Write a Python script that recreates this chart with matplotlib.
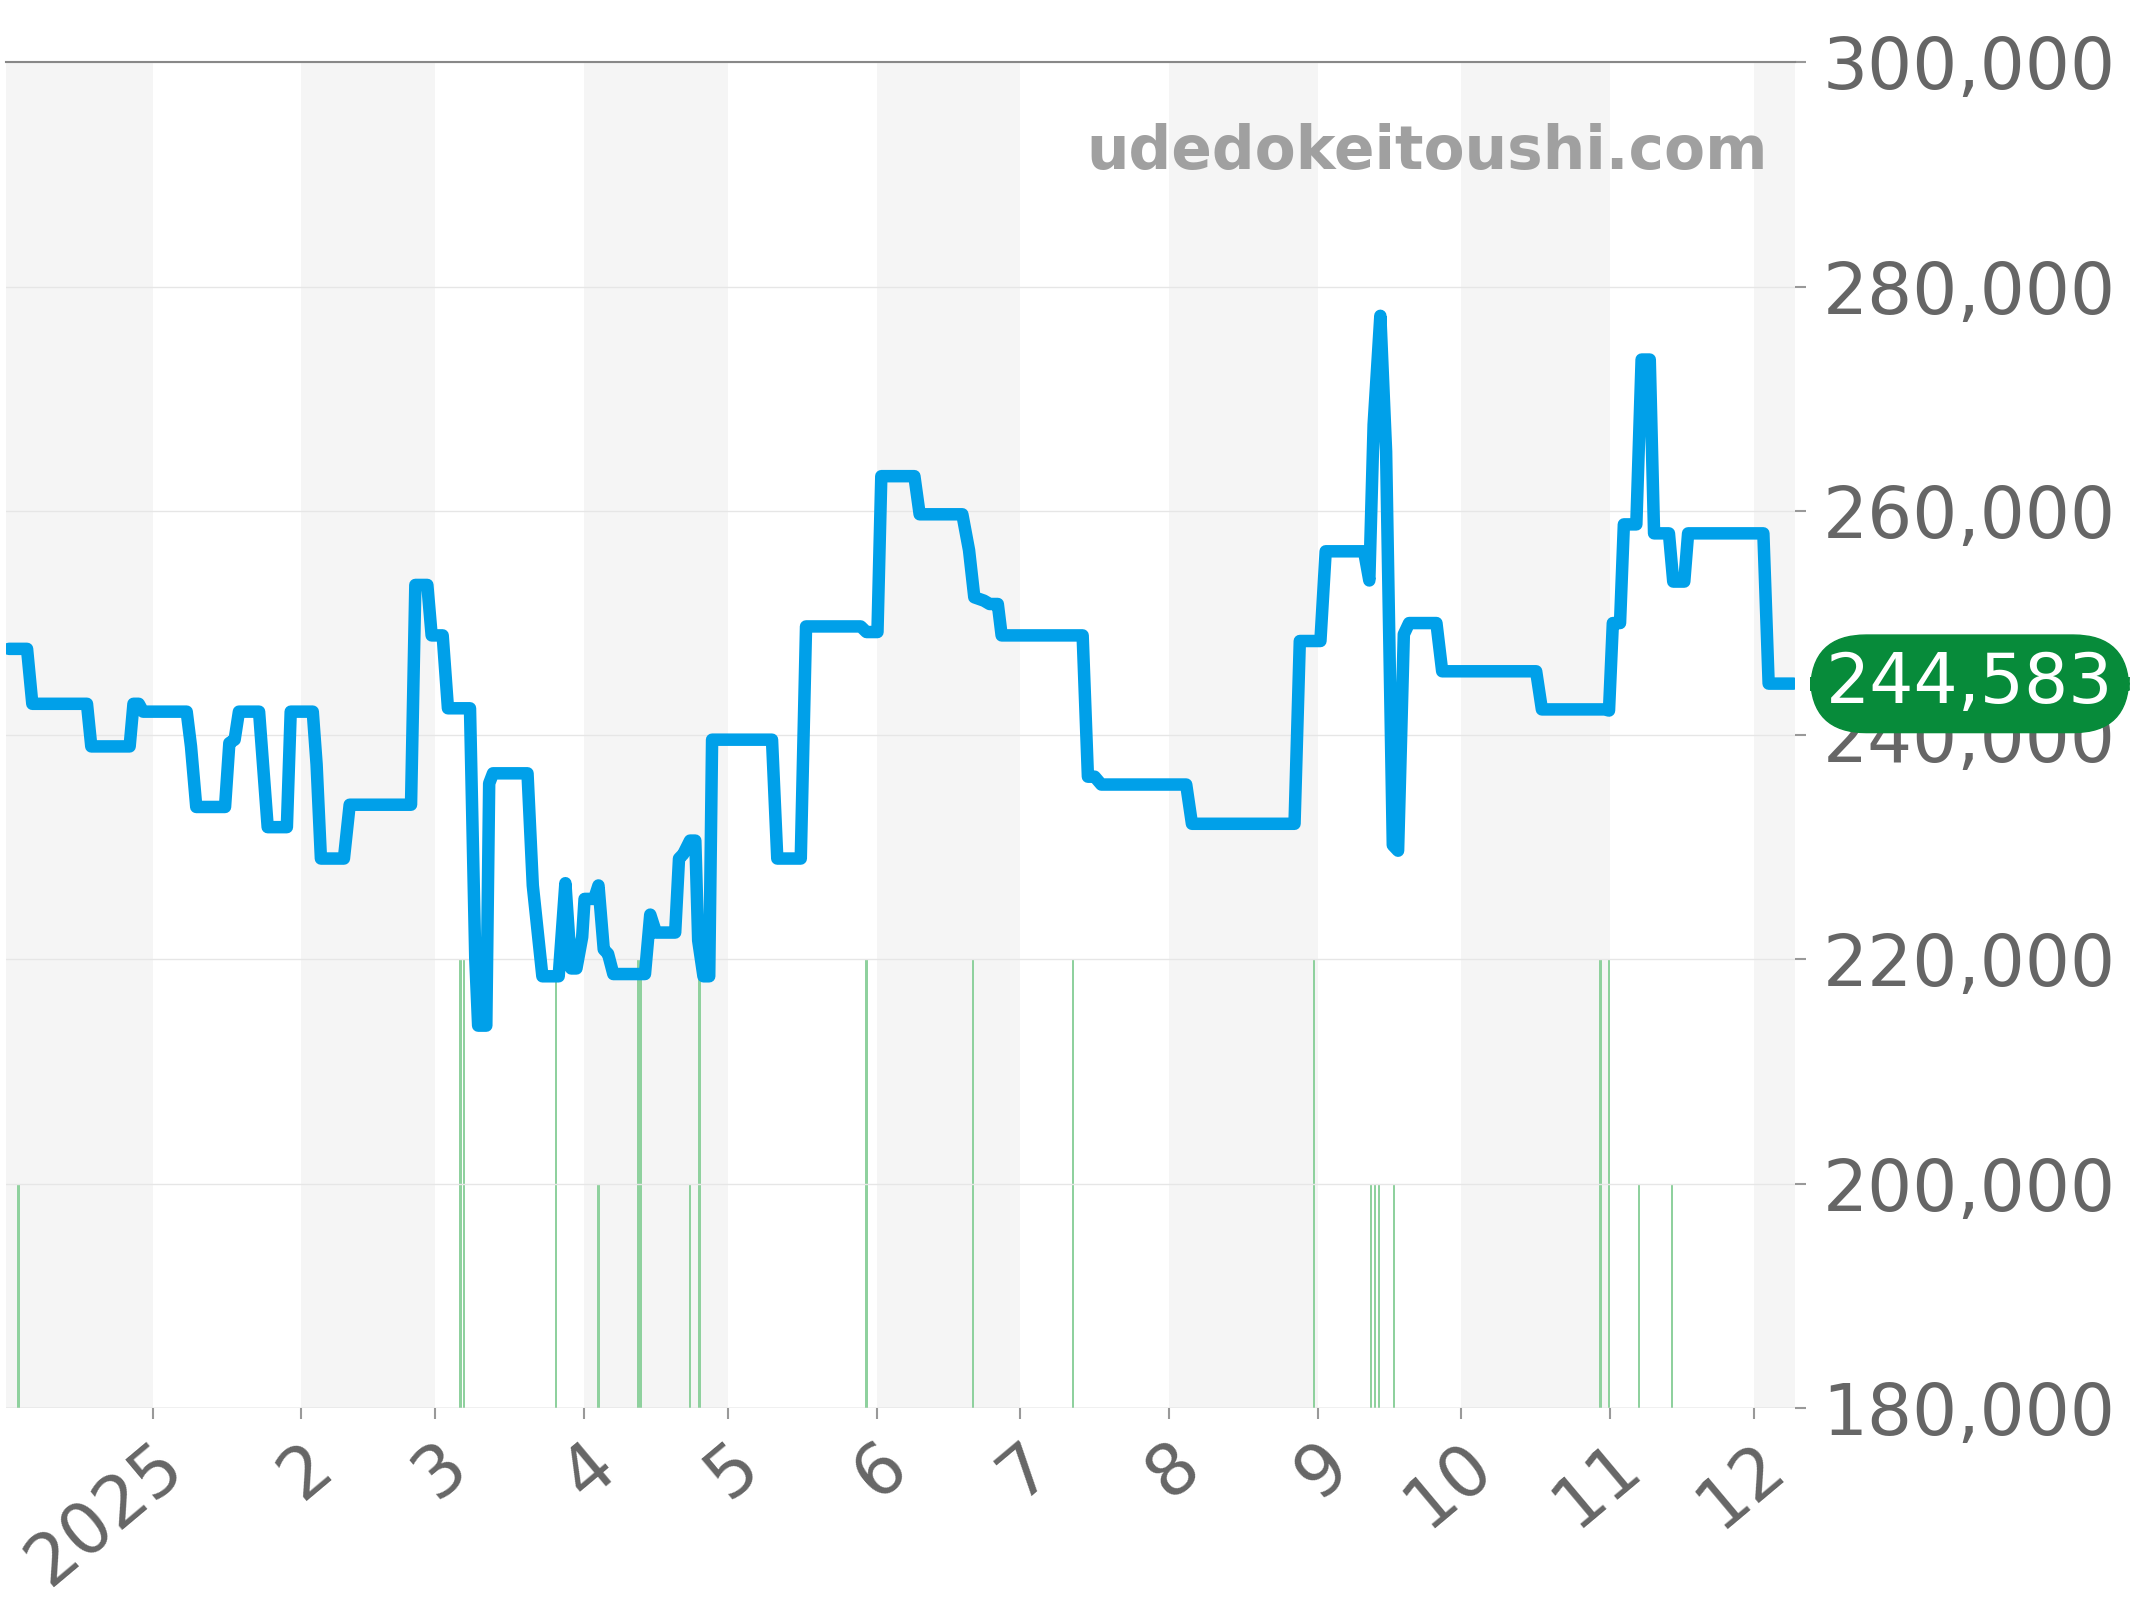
import matplotlib
matplotlib.use("Agg")
import matplotlib.pyplot as plt
import matplotlib.dates as mdates
import numpy as np
import datetime as dt

# days since 2025-01-01
days = [-30,-26.2,-25.1,-13.7,-12.8,-4.8,-4,-2.9,-2,7.1,8,9.1,15.1,16,17.1,18,22.2,24,28,28.8,33.4,34.2,35.1,39.9,41.1,53.9,54.8,57.3,58.2,60.5,61.6,66.2,67.3,67.9,69.6,70.2,71,78.2,79.3,81.3,84.7,86.1,87.3,88.4,89.6,90.1,92.1,93,94.1,95,96.1,102.7,103.8,105,109,109.8,110.7,112.1,113.2,113.8,114.9,116.1,116.7,129.2,130.3,135.2,136.3,147.7,148.9,151.2,152,158.9,160,168.9,170.3,171.4,173.4,174.6,176.3,177.1,194,195.1,196.5,197.9,215.6,216.8,238.2,239.3,243.6,244.7,252.7,253.8,254.7,256.1,257.3,258.7,259.8,261,262.1,267.8,269,288.6,289.8,302.9,303.8,304.6,306.1,306.9,309.5,310.6,312.3,313.2,316.3,317.2,319.5,320.3,336,337.1,342.3]
prices = [247700,247700,242800,242800,239000,239000,242800,242800,242100,242100,239000,233600,233600,239300,239600,242100,242100,231800,231800,242100,242100,237400,229000,229000,233800,233800,253400,253400,248900,248900,242400,242400,220100,214100,214100,235700,236600,236600,226600,218500,218500,226800,219200,219200,222000,225400,225400,226600,220900,220500,218700,218700,224000,222400,222400,229000,229400,230600,230600,221700,218500,218500,239600,239600,229000,229000,249700,249700,249200,249200,263100,263100,259700,259700,256500,252300,252000,251700,251700,248900,248900,236300,236300,235600,235600,232100,232100,248400,248400,256400,256400,253800,267700,277400,265300,230200,229700,249000,250000,250000,245700,245700,242300,242300,242200,250000,250000,258800,258800,273500,273500,258000,258000,253700,253700,258000,258000,244600,244600]
vol_days = [-28,64.2,65,84.1,93,101.3,101.8,112.1,114.1,148.9,171.1,192,242.2,254.1,255,255.8,259,302,303.8,310,316.9]
vol = [1,2,2,2,1,2,2,1,2,2,2,2,2,1,1,1,1,2,2,1,1]
last_price = 244583
month_labels = ["2025","2","3","4","5","6","7","8","9","10","11","12"]

base = mdates.date2num(dt.datetime(2025,1,1))
x = base + np.array(days)
xv = base + np.array(vol_days)

fig = plt.figure(figsize=(21.44,16), dpi=100)
ax = fig.add_axes([0.003, 0.12, 0.834, 0.841])
ax2 = ax.twinx()
ax.set_zorder(ax2.get_zorder()+1); ax.patch.set_visible(False)

xmin, xmax = base-30.5, base+342.5
edges = [dt.datetime(2024,12,1)] + [dt.datetime(2025,m,1) for m in range(1,13)] + [dt.datetime(2026,1,1)]
for i in range(len(edges)-1):
    if i % 2 == 0:
        ax2.axvspan(mdates.date2num(edges[i]), mdates.date2num(edges[i+1]), color="#f5f5f5", lw=0, zorder=0)

ax2.bar(xv, vol, width=0.5, color="#8fd19e", zorder=2)
ax2.set_ylim(0, 6)
ax2.set_yticks([])
for s in ax2.spines.values(): s.set_visible(False)

ax.plot(x, prices, color="#00a0e9", lw=9, solid_joinstyle="round", solid_capstyle="round", zorder=3)
ax.set_xlim(xmin, xmax); ax2.set_xlim(xmin, xmax)
ax.set_ylim(180000, 300000)
ax.set_yticks(np.arange(180000, 300001, 20000))
ax.yaxis.tick_right()
ax.yaxis.set_major_formatter(matplotlib.ticker.FuncFormatter(lambda v,p: f"{int(v):,}"))
ax.grid(axis="y", color="#e6e6e6", lw=1)
ticks = [mdates.date2num(dt.datetime(2025,m,1)) for m in range(1,13)]
ax.set_xticks(ticks)
ax.set_xticklabels(month_labels, rotation=40, ha="right", rotation_mode="anchor")
ax.tick_params(axis="both", colors="#999999", labelcolor="#666666", labelsize=51, length=8, width=1.5)
ax.tick_params(axis="y", pad=12)
ax.tick_params(axis="x", pad=8)
for s in ["left","right","bottom"]: ax.spines[s].set_visible(False)
ax.spines["top"].set_color("#888888"); ax.spines["top"].set_linewidth(1.5)
ax.axhline(180000, color="#cccccc", lw=1)

ax.text(0.985, 0.933, "udedokeitoushi.com", transform=ax.transAxes, ha="right", va="center",
        fontsize=43, fontweight="bold", color="#a0a0a0")

ax.text(1.098, (last_price-180000)/120000, f"{last_price:,}", transform=ax.transAxes, ha="center", va="center",
        fontsize=50, color="white", clip_on=False,
        bbox=dict(boxstyle="round,pad=0.22,rounding_size=0.8", fc="#078b3a", ec="#078b3a"))

fig.savefig("out.png", dpi=100)
